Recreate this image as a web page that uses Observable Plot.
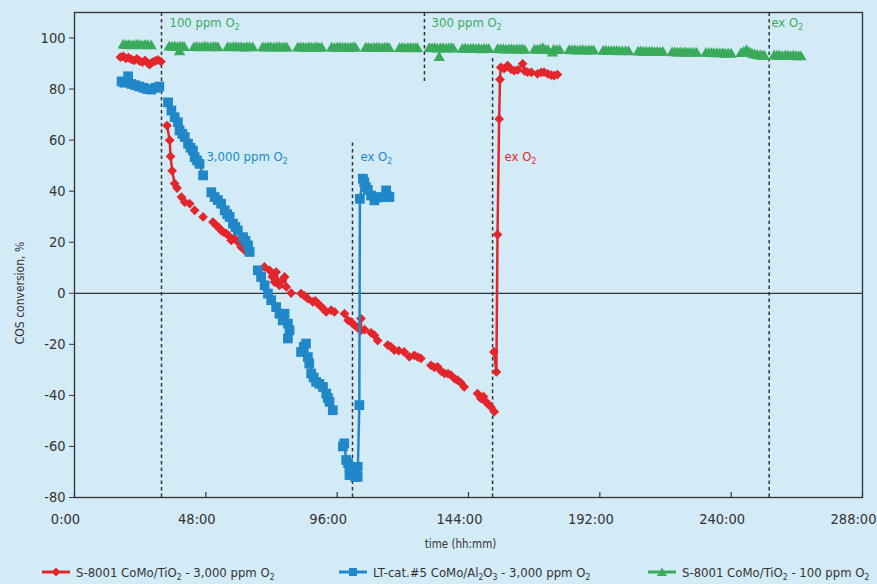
<!DOCTYPE html>
<html><head><meta charset="utf-8">
<script src="https://cdn.jsdelivr.net/npm/d3@7"></script>
<script src="https://cdn.jsdelivr.net/npm/@observablehq/plot@0.6"></script>
<style>
html,body{margin:0;padding:0;background:#d3eaf7;}
#wrap{position:relative;width:877px;height:584px;background:#d3eaf7;overflow:hidden;
 font-family:"Liberation Sans Narrow","Arial Narrow","DejaVu Sans Condensed","Liberation Sans",sans-serif;color:#333;}
#legend{position:absolute;top:563px;left:0;width:877px;height:18px;font-size:13px;}
.item{position:absolute;top:0;height:18px;display:flex;align-items:center;white-space:nowrap;}
.item svg{margin-right:6px;}
sub{font-size:0.65em;vertical-align:-0.3em;line-height:0;}
</style></head><body>
<div id="wrap"><div id="chart"></div><div id="legend"></div></div>
<script>
// ---------- data ----------
const xTicks = [0, 48, 96, 144, 192, 240, 288];
const yTicks = [-80, -60, -40, -20, 0, 20, 40, 60, 80, 100];

// vertical event lines (time in h, extent in %)
const eventTimes = [31.8, 101.6, 127.9, 152.8, 253.9];
const eventFrom  = [-80, -80, 83, -80, -80];
const eventTo    = [110, 59, 110, 92, 110];

const noteText   = ["100 ppm O₂", "300 ppm O₂", "ex O₂", "3,000 ppm O₂", "ex O₂", "ex O₂"];
const noteTime   = [34.7, 130.5, 254.7, 48.2, 104.5, 157.2];
const noteValue  = [106, 106, 106, 53.5, 53.5, 53.5];
const noteSeries = ["green", "green", "green", "blue", "blue", "red"];

const legendLabels = [
  "S-8001 CoMo/TiO<sub>2</sub> - 3,000 ppm O<sub>2</sub>",
  "LT-cat.#5 CoMo/Al<sub>2</sub>O<sub>3</sub> - 3,000 ppm O<sub>2</sub>",
  "S-8001 CoMo/TiO<sub>2</sub> - 100 ppm O<sub>2</sub>"
];

// S-8001 CoMo/TiO2 - 3,000 ppm O2 : runs of [time h, conversion %]
const redRuns = [
  [[16.8,92.5],[17.8,92.8],[18.8,92.0],[19.8,92.3],[20.8,91.6],[21.8,91.2],[22.8,91.8],[23.8,91.0],[24.8,90.6],[25.8,91.2],[26.8,90.2],[27.5,89.6],[28.5,90.6],[29.5,91.0],[30.5,91.4],[31.6,90.8]],
  [[33.8,65.7],[34.8,60.0],[35.1,53.6],[35.7,48.0],[36.6,43.0],[37.5,41.2]],
  [[39.1,37.7],[40.3,35.7],[42.1,35.1]],
  [[43.9,32.5]],
  [[47.0,29.9]],
  [[50.6,27.9],[51.8,26.6],[52.7,25.8],[53.6,24.6],[54.5,24.0],[55.5,23.4],[56.4,22.5],[57.3,20.7],[58.5,21.5],[59.7,20.1],[60.9,18.1],[61.8,17.5],[62.8,16.2]],
  [[69.4,10.3],[71.3,9.0],[72.3,6.5],[73.1,4.4],[73.7,8.3],[74.9,3.1],[75.8,5.0],[76.8,6.4],[77.4,2.5]],
  [[79.2,0.1]],
  [[82.8,-0.1],[84.0,-1.0],[85.3,-2.1],[87.1,-3.4],[88.0,-3.0],[88.9,-4.0],[90.0,-5.0],[90.8,-6.0],[92.0,-7.3],[93.8,-6.6],[95.0,-7.3]],
  [[98.7,-8.0],[100.0,-10.6],[101.1,-11.2],[102.3,-12.5],[103.5,-13.5],[104.7,-9.9],[104.7,-14.5],[106.0,-14.2]],
  [[108.4,-15.5],[109.6,-16.4],[110.8,-18.5]],
  [[114.5,-20.3],[115.7,-21.0],[116.9,-22.3],[118.5,-22.5],[120.5,-23.0],[122.4,-24.9],[124.2,-24.3],[125.5,-25.0],[126.6,-25.5]],
  [[130.3,-28.2],[131.5,-29.0],[132.7,-28.8],[134.0,-30.5],[135.2,-31.4],[136.5,-31.5],[137.6,-32.1],[139.0,-33.5],[140.0,-34.0],[141.2,-35.0],[142.4,-36.7]],
  [[147.3,-39.3],[148.5,-41.2],[149.5,-40.5],[150.3,-42.5],[151.0,-43.2],[152.2,-44.5],[153.4,-46.4]],
  [[153.3,-23.0],[154.2,-30.8],[154.6,23.0],[155.2,68.3],[155.5,83.8],[155.8,88.5],[157.0,88.0],[158.3,89.2],[159.5,87.8],[160.7,87.2],[162.0,87.5],[163.8,89.9],[164.6,87.0],[165.6,86.6],[167.0,86.5],[169.2,86.0],[170.5,86.5],[171.6,86.6],[173.0,86.0],[174.2,85.5],[175.3,85.3],[176.5,85.7]]
];

// LT-cat.#5 CoMo/Al2O3 - 3,000 ppm O2
const blueRuns = [
  [[17.2,83.0],[18.2,82.5],[19.6,85.0],[20.8,82.0],[22.2,81.5],[23.7,81.0],[25.2,80.5],[26.6,80.0],[28.1,79.8],[29.6,80.5],[31.0,81.0]],
  [[34.2,74.8],[35.4,71.6],[36.6,69.0],[37.8,67.0],[38.4,63.8],[39.4,62.5],[40.3,61.2],[41.5,58.6],[42.4,57.0],[43.3,55.9],[43.9,53.3],[44.8,52.0],[45.7,50.7],[47.0,46.2]],
  [[50.0,39.6],[51.2,37.7],[52.4,36.5],[53.6,35.1],[54.9,32.5],[55.8,31.0],[56.7,29.9],[57.9,27.3],[58.8,26.0],[59.7,24.6],[61.6,22.0],[62.5,20.5],[63.4,18.8],[64.0,16.2]],
  [[67.0,9.0],[68.2,6.4],[69.5,3.1],[70.7,-0.1],[71.9,-2.7],[73.7,-5.4],[74.9,-8.0],[76.1,-10.6],[76.8,-8.0],[78.0,-11.9],[78.6,-14.5],[78.0,-17.7]],
  [[82.8,-23.0],[83.8,-21.0],[84.6,-19.7],[85.3,-25.0],[85.8,-27.5],[86.5,-31.4],[87.4,-33.0],[88.3,-34.7],[89.5,-35.5],[90.8,-36.7],[92.0,-39.3],[92.6,-41.0],[93.2,-42.5],[94.4,-45.8]],
  [[98.1,-60.0],[98.6,-58.8],[99.3,-65.3],[100.0,-66.5],[100.5,-68.0],[100.5,-71.2],[101.8,-70.0],[102.6,-72.0],[103.5,-68.0],[103.5,-71.9],[104.1,-43.8],[104.3,37.0],[105.4,44.9],[105.9,43.5],[106.5,41.6],[107.2,40.5],[108.4,38.3],[109.6,36.4],[110.8,37.5],[112.0,37.7],[113.9,40.3],[114.4,38.0],[115.1,37.7]]
];

// S-8001 CoMo/TiO2 - 100 ppm O2
const greenRuns = [
  [[17.8,97.2],[18.8,97.0],[19.8,97.1],[20.8,96.9],[21.8,97.0],[22.8,97.2],[23.8,97.0],[24.8,96.9],[25.8,97.1],[26.8,97.0],[28.0,96.9]],
  [[34.6,96.4],[35.6,96.3],[36.6,96.5],[37.6,96.2],[38.4,94.5],[38.6,96.4],[39.4,96.3],[40.1,96.2]],
  [[43.7,96.2],[44.7,96.3],[45.7,96.1],[46.7,96.2],[47.7,96.4],[48.7,96.2],[49.7,96.1],[50.7,96.3],[51.6,96.2],[52.4,96.1]],
  [[56.0,96.2],[57.0,96.1],[58.0,96.2],[59.0,96.3],[60.0,96.1],[61.0,96.2],[62.0,96.0],[63.0,96.1],[64.0,96.2],[65.1,96.1]],
  [[68.8,96.1],[69.8,96.0],[70.8,96.2],[71.8,96.1],[72.8,96.0],[73.8,96.1],[74.8,96.2],[75.8,96.0],[76.7,96.1],[77.6,96.0]],
  [[81.6,96.0],[82.6,96.1],[83.6,96.0],[84.6,95.9],[85.6,96.1],[86.6,96.0],[87.6,96.0],[88.5,96.1],[89.4,95.9],[90.3,96.0]],
  [[94.0,96.0],[95.0,95.9],[96.0,96.0],[97.0,96.1],[98.0,95.9],[99.0,96.0],[100.0,95.9],[101.0,96.0],[101.9,96.1],[102.7,95.9]],
  [[106.4,95.9],[107.4,96.0],[108.4,95.8],[109.4,95.9],[110.4,96.0],[111.4,95.9],[112.4,95.8],[113.3,95.9],[114.2,96.0],[115.0,95.8]],
  [[118.8,95.8],[119.8,95.9],[120.8,95.7],[121.8,95.8],[122.8,95.9],[123.8,95.8],[124.6,95.7],[125.3,95.8]],
  [[129.7,95.8],[130.7,95.7],[131.7,95.9],[132.7,95.6],[133.3,92.3],[133.7,95.7],[134.7,95.8],[135.7,95.6],[136.7,95.7],[137.6,95.8],[138.4,95.6]],
  [[141.8,95.5],[142.8,95.6],[143.8,95.4],[144.8,95.5],[145.8,95.6],[146.8,95.4],[147.8,95.5],[148.8,95.3],[149.8,95.5],[150.6,95.4],[151.4,95.4]],
  [[154.7,95.4],[155.7,95.3],[156.7,95.4],[157.7,95.2],[158.7,95.3],[159.7,95.4],[160.7,95.2],[161.7,95.3],[162.7,95.2],[163.6,95.3],[164.5,95.1]],
  [[168.1,95.2],[169.1,95.1],[170.1,95.3],[171.1,95.8],[172.1,95.1],[173.1,95.0],[174.7,94.0],[175.1,95.1],[176.2,95.0],[177.3,95.1]],
  [[180.8,95.0],[181.8,94.9],[182.8,95.0],[183.8,94.8],[184.8,94.9],[185.8,95.0],[186.8,94.8],[187.8,94.9],[188.8,94.8],[189.7,94.9]],
  [[193.2,94.7],[194.2,94.8],[195.2,94.6],[196.2,94.7],[197.2,94.6],[198.2,94.7],[199.2,94.5],[200.2,94.6],[201.4,94.6],[202.5,94.5]],
  [[206.0,94.4],[207.0,94.5],[208.0,94.3],[209.0,94.4],[210.0,94.3],[211.0,94.4],[212.0,94.2],[213.0,94.3],[214.0,94.2],[215.0,94.3]],
  [[218.4,94.1],[219.4,94.2],[220.4,94.0],[221.4,94.1],[222.4,94.0],[223.4,94.1],[224.4,93.9],[225.4,94.0],[226.4,94.0],[227.4,93.9]],
  [[230.8,93.9],[231.8,93.8],[232.8,93.9],[233.8,93.7],[234.8,93.8],[235.8,93.7],[236.8,93.8],[237.8,93.6],[238.9,93.7],[240.0,93.6]],
  [[243.6,93.8],[244.6,94.3],[245.6,95.0],[246.6,94.2],[247.6,93.6],[248.6,93.3],[249.6,93.1],[250.6,92.9],[251.4,92.8],[252.1,92.8]],
  [[255.7,92.9],[256.7,92.8],[257.7,92.9],[258.7,92.7],[259.7,92.8],[260.7,92.9],[261.7,92.7],[262.7,92.8],[263.7,92.6],[264.6,92.7],[265.5,92.6]]
];

// ---------- drawing ----------
const FONT = '"Liberation Sans Narrow","Arial Narrow","DejaVu Sans Condensed","Liberation Sans",sans-serif';
const INK = "#333333";
const COLORS = {red: "#e3262c", blue: "#2088c8", green: "#3aaa5b"};

const flat = (runs) => runs.flatMap((run, i) => run.map(([t, v]) => ({t, v, run: i})));
const red = flat(redRuns), blue = flat(blueRuns), green = flat(greenRuns);
const events = d3.range(eventTimes.length);
const notes = d3.range(noteText.length);

const chart = Plot.plot({
  width: 877,
  height: 556,
  marginLeft: 74,
  marginRight: 15,
  marginTop: 12,
  marginBottom: 59,
  style: {background: "transparent", fontFamily: FONT, fontSize: "14px", color: INK},
  x: {domain: [0, 288]},
  y: {domain: [-80, 110]},
  marks: [
    Plot.ruleY([0], {stroke: INK, strokeWidth: 1.3}),
    Plot.ruleX(events, {x: i => eventTimes[i], y1: i => eventFrom[i], y2: i => eventTo[i],
      stroke: INK, strokeWidth: 1.5, strokeDasharray: "3.5,3"}),
    Plot.frame({stroke: INK, strokeWidth: 1.3}),
    Plot.axisY({ticks: yTicks, tickSize: 5, tickPadding: 4, label: null, tickFormat: d => String(d),
      fontSize: 14.5, stroke: INK, fill: INK}),
    Plot.axisX({ticks: xTicks, tickSize: 0, tickPadding: 16, label: null, tickFormat: d => `${d}:00`,
      fontSize: 14.5, dx: -9, fill: INK}),
    Plot.ruleX(xTicks, {x: d => d, y1: -80, y2: -80, insetTop: -5, stroke: INK, strokeWidth: 1.2}),
    // series 1 (red)
    Plot.line(red, {x: "t", y: "v", z: "run", stroke: COLORS.red, strokeWidth: 2.5}),
    Plot.dot(red, {x: "t", y: "v", symbol: "diamond2", r: 4.4, fill: COLORS.red}),
    // series 2 (blue)
    Plot.line(blue, {x: "t", y: "v", z: "run", stroke: COLORS.blue, strokeWidth: 2.5}),
    Plot.dot(blue, {x: "t", y: "v", symbol: "square", r: 5.5, fill: COLORS.blue}),
    // series 3 (green)
    Plot.dot(green, {x: "t", y: "v", symbol: "triangle", r: 4.2, fill: COLORS.green}),
    // annotations
    Plot.text(notes, {x: i => noteTime[i], y: i => noteValue[i], text: i => noteText[i],
      fill: i => COLORS[noteSeries[i]], textAnchor: "start", lineAnchor: "middle", fontSize: 13}),
    // axis titles
    Plot.text(["time (hh:mm)"], {text: d => d, frameAnchor: "bottom", textAnchor: "middle", dx: -8, dy: 47,
      lineAnchor: "middle", fill: INK, fontSize: 11.5}),
    Plot.text(["COS conversion, %"], {text: d => d, frameAnchor: "left", textAnchor: "middle", dx: -54, dy: 38,
      rotate: -90, lineAnchor: "middle", fill: INK, fontSize: 12})
  ]
});

// subscript the "2" in O₂ labels
chart.querySelectorAll("text").forEach(t => {
  const s = t.textContent;
  if (s.includes("₂")) {
    const parts = s.split("₂");
    t.textContent = parts[0];
    const sub = document.createElementNS("http://www.w3.org/2000/svg", "tspan");
    sub.setAttribute("dy", "0.35em");
    sub.setAttribute("font-size", "0.65em");
    sub.textContent = "2";
    t.appendChild(sub);
  }
});
document.getElementById("chart").appendChild(chart);

// legend
const legendX = [42, 339, 648];
const legendKeys = ["red", "blue", "green"];
const swatchPaths = [
  "M14,1.5L18.5,6L14,10.5L9.5,6Z",
  "M10,2H18V10H10Z",
  "M14,1.5L19,10H9Z"
];
const legend = document.getElementById("legend");
legendLabels.forEach((lab, i) => {
  const c = COLORS[legendKeys[i]];
  const div = document.createElement("div");
  div.className = "item";
  div.style.left = legendX[i] + "px";
  div.innerHTML = `<svg width="28" height="12" viewBox="0 0 28 12"><line x1="0" y1="6" x2="28" y2="6" stroke="${c}" stroke-width="3"/><path d="${swatchPaths[i]}" fill="${c}"/></svg><span>${lab}</span>`;
  legend.appendChild(div);
});
</script>
</body></html>
